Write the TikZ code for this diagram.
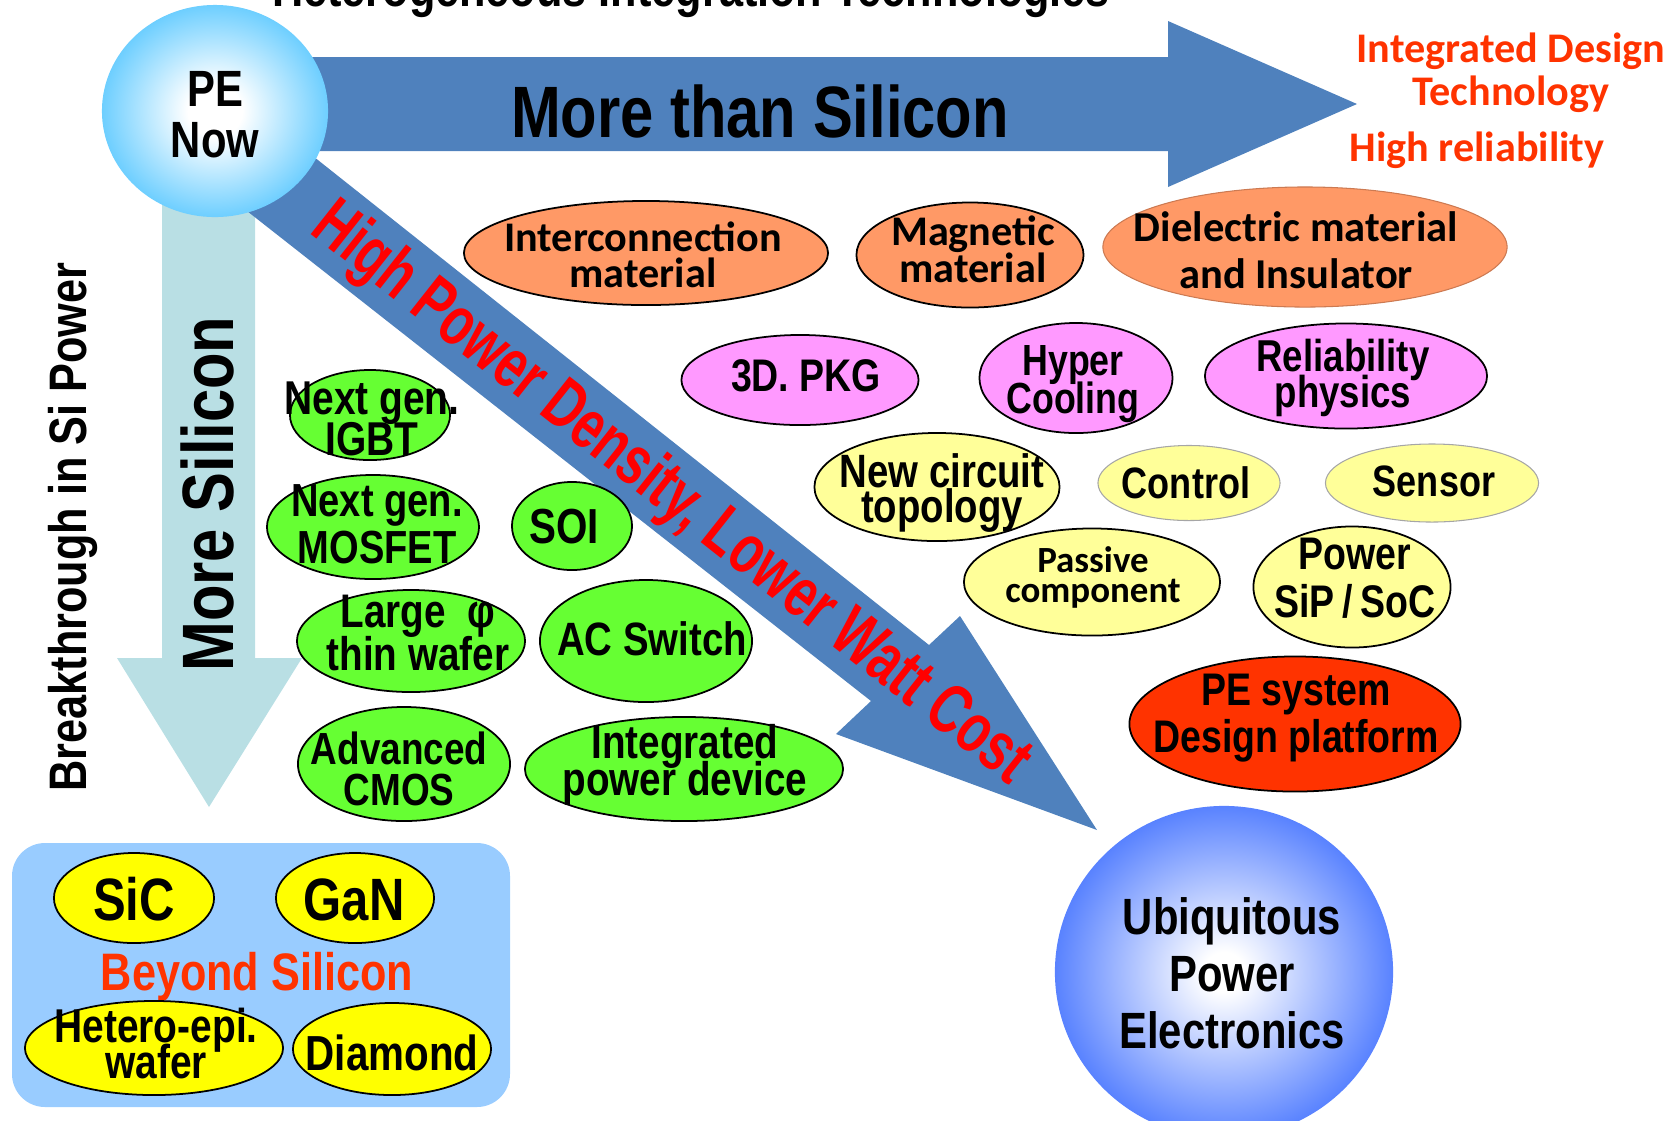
\documentclass[tikz,border=0pt]{standalone}
\usepackage{fontspec}
\setmainfont{Liberation Sans}
\newfontfamily\condfont[FakeStretch=0.82]{Liberation Sans}
\newfontfamily\narrowfont[FakeStretch=0.72]{Liberation Sans}
\newfontfamily\calfont{Carlito}
\usetikzlibrary{shapes.geometric}
\newcommand\tightlines{\lineskiplimit -100pt\lineskip 0pt\relax}

\definecolor{arrowblue}{HTML}{4F81BD}
\definecolor{siaqua}{HTML}{B9DFE4}
\definecolor{nowcyan}{HTML}{66CCFF}
\definecolor{upeblue}{HTML}{3366FF}
\definecolor{matorange}{HTML}{FF9966}
\definecolor{pkgpink}{HTML}{FF99FF}
\definecolor{ckyellow}{HTML}{FFFF99}
\definecolor{devgreen}{HTML}{66FF33}
\definecolor{sysred}{HTML}{FF3300}
\definecolor{boxblue}{HTML}{99CCFF}
\definecolor{wbgyellow}{HTML}{FFFF00}
\definecolor{noteorange}{HTML}{FF3300}

\pgfdeclareradialshading{nowglow}{\pgfpoint{0bp}{0bp}}{color(0bp)=(white); color(6bp)=(white); color(26bp)=(nowcyan); color(50bp)=(nowcyan)}
\pgfdeclareradialshading{upeglow}{\pgfpoint{0bp}{0bp}}{color(0bp)=(white); color(3bp)=(white); color(30bp)=(upeblue); color(50bp)=(upeblue)}

\begin{document}
\begin{tikzpicture}[x=0.01cm, y=-0.01cm,
  oval/.style={ellipse, draw=black, line width=0.5pt, inner sep=0pt},
  faint/.style={ellipse, draw=black!35, line width=0.3pt, inner sep=0pt},
  lbl/.style n args={2}{align=center, inner sep=0pt, anchor=base,
    font={\condfont\bfseries\fontsize{#1}{#2}\selectfont\tightlines}},
  cal/.style n args={2}{align=center, inner sep=0pt, anchor=base,
    font={\calfont\bfseries\fontsize{#1}{#2}\selectfont\tightlines}}]
  \useasboundingbox (0,0) rectangle (1675,1120);
  % titulo (cortado em cima)
  \node[lbl={15}{18}] (title) at (691,6) {Heterogeneous Integration Technologies};
  % ---- setas ----
  \fill[siaqua] (162,205) -- (255,205) -- (255,658) -- (302,658) -- (209,807)
    -- (117,658) -- (162,658) -- cycle;
  \fill[arrowblue] (299,145) -- (929,645) -- (960,616) -- (1097,830) -- (836,734)
    -- (871,701) -- (247,211) -- cycle;
  \fill[arrowblue] (300,57) -- (1168,57) -- (1168,21) -- (1357,104) -- (1168,187)
    -- (1168,151) -- (300,151) -- cycle;
  \node[lbl={20.7}{24}] (mts) at (760,137) {More than Silicon};
  \node[lbl={20.7}{24}, rotate=90] (ms) at (233,494) {More Silicon};
  \node[lbl={15}{18}, rotate=90] (bsp) at (87,527) {Breakthrough in Si Power};
  \node[align=center, inner sep=0pt, anchor=base, rotate=-38.3, text=red,
    font=\narrowfont\bfseries\fontsize{19.9}{24}\selectfont] (hpd) at (659,509)
    {High Power Density, Lower Watt Cost};
  % ---- PE now ----
  \node[ellipse, minimum width=2.26cm, minimum height=2.12cm, shading=nowglow] (now) at (215,111) {};
  \node[lbl={14.5}{14.5}] (now-t) at (215,157) {PE\\Now};
  % ---- notas ----
  \node[cal={12}{12}, text=noteorange] (idt) at (1511,105) {Integrated Design\\Technology};
  \node[cal={12}{12}, text=noteorange] (hrel) at (1477,161) {High reliability};
  % ---- materiais ----
  \node[oval, fill=matorange, minimum width=3.64cm, minimum height=1.04cm] (icm) at (646,253) {};
  \node[cal={12}{10}] (icm-t) at (643,287) {Interconnection\\material};
  \node[oval, fill=matorange, minimum width=2.27cm, minimum height=1.05cm] (mag) at (970,255) {};
  \node[cal={12}{10.5}] (mag-t) at (973,282) {Magnetic\\material};
  \node[faint, draw=matorange!80!black, fill=matorange, minimum width=4.04cm, minimum height=1.2cm] (die) at (1305,247) {};
  \node[cal={12.1}{13.1}] (die-t) at (1296,288) {Dielectric material\\and Insulator};
  % ---- encapsulamento ----
  \node[oval, fill=pkgpink, minimum width=2.37cm, minimum height=0.9cm] (pkg) at (800,380) {};
  \node[lbl={13}{13}] (pkg-t) at (806,391) {3D. PKG};
  \node[oval, fill=pkgpink, minimum width=1.93cm, minimum height=1.1cm] (hyp) at (1076,378) {};
  \node[lbl={12.4}{10.8}] (hyp-t) at (1073,413) {Hyper\\Cooling};
  \node[oval, fill=pkgpink, minimum width=2.82cm, minimum height=1.05cm] (rel) at (1346,376) {};
  \node[lbl={12.7}{10}] (rel-t) at (1343,407) {Reliability\\physics};
  % ---- circuito ----
  \node[oval, fill=ckyellow, minimum width=2.45cm, minimum height=1.08cm] (nct) at (937,487) {};
  \node[lbl={13.3}{9.7}] (nct-t) at (942,522) {New circuit\\topology};
  \node[faint, fill=ckyellow, minimum width=1.82cm, minimum height=0.75cm] (ctl) at (1189,483) {};
  \node[lbl={12.5}{12}] (ctl-t) at (1186,498) {Control};
  \node[faint, fill=ckyellow, minimum width=2.13cm, minimum height=0.78cm] (sen) at (1432,483) {};
  \node[lbl={12.5}{12}] (sen-t) at (1434,496) {Sensor};
  \node[oval, fill=ckyellow, minimum width=2.56cm, minimum height=1.07cm] (pas) at (1092,582) {};
  \node[cal={10.5}{8.5}] (pas-t) at (1093,602) {Passive\\component};
  \node[oval, fill=ckyellow, minimum width=1.97cm, minimum height=1.21cm] (sip) at (1352,587) {};
  \node[lbl={13}{13.4}] (sip-t) at (1355,617) {Power\\SiP\,/\,SoC};
  \node[oval, fill=sysred, minimum width=3.31cm, minimum height=1.35cm] (pes) at (1295,724) {};
  \node[lbl={13}{13.1}] (pes-t) at (1296,752) {PE system\\Design platform};
  % ---- dispositivos de silicio ----
  \node[oval, fill=devgreen, minimum width=1.6cm, minimum height=0.9cm] (igbt) at (370,415) {};
  \node[lbl={13.5}{11.4}] (igbt-t) at (372,455) {Next gen.\\IGBT};
  \node[oval, fill=devgreen, minimum width=2.12cm, minimum height=1.04cm] (mos) at (373,527) {};
  \node[lbl={13.2}{13.1}] (mos-t) at (377,563) {Next gen.\\MOSFET};
  \node[oval, fill=devgreen, minimum width=1.2cm, minimum height=0.88cm] (soi) at (572,526) {};
  \node[lbl={14}{14}] (soi-t) at (564,543) {SOI};
  \node[oval, fill=devgreen, minimum width=2.28cm, minimum height=1.02cm] (lrg) at (411,641) {};
  \node[lbl={13.4}{12}] (lrg-t) at (418,670) {Large\ \ φ\\thin wafer};
  \node[oval, fill=devgreen, minimum width=2.12cm, minimum height=1.22cm] (acs) at (646,641) {};
  \node[lbl={13.3}{13}] (acs-t) at (652,655) {AC Switch};
  \node[oval, fill=devgreen, minimum width=2.12cm, minimum height=1.14cm] (cmos) at (404,764) {};
  \node[lbl={12.8}{11.4}] (cmos-t) at (399,805) {Advanced\\CMOS};
  \node[oval, fill=devgreen, minimum width=3.18cm, minimum height=1.04cm] (ipd) at (684,769) {};
  \node[lbl={13.4}{10.5}] (ipd-t) at (685,795) {Integrated\\power device};
  % ---- beyond silicon ----
  \fill[boxblue, rounded corners=0.33cm] (12,843) rectangle (510,1107);
  \node[oval, fill=wbgyellow, minimum width=1.6cm, minimum height=0.9cm] (sic) at (134,898) {};
  \node[lbl={17}{17}] (sic-t) at (134,920) {SiC};
  \node[oval, fill=wbgyellow, minimum width=1.58cm, minimum height=0.9cm] (gan) at (355,898) {};
  \node[lbl={17}{17}] (gan-t) at (354,920) {GaN};
  \node[lbl={15}{15}, text=noteorange] (bys) at (257,990) {Beyond Silicon};
  \node[oval, fill=wbgyellow, minimum width=2.58cm, minimum height=0.94cm] (hep) at (154,1048) {};
  \node[lbl={13.5}{10}] (hep-t) at (156,1078) {Hetero-epi.\\wafer};
  \node[oval, fill=wbgyellow, minimum width=1.98cm, minimum height=0.92cm] (dia) at (392,1049) {};
  \node[lbl={14}{14}] (dia-t) at (392,1070) {Diamond};
  % ---- meta ----
  \node[ellipse, minimum width=3.38cm, minimum height=3.32cm, shading=upeglow] (upe) at (1224,972) {};
  \node[lbl={14.5}{16.2}] (upe-t) at (1232,1048) {Ubiquitous\\Power\\Electronics};
\end{tikzpicture}
\end{document}
